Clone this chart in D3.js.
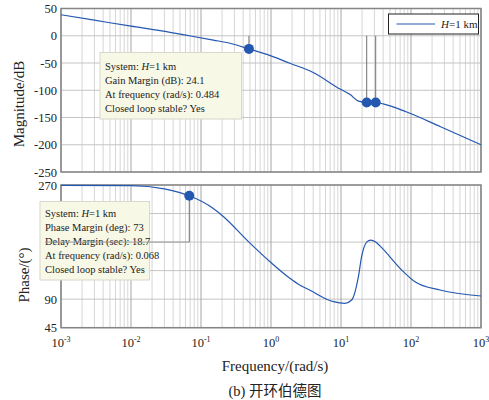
<!DOCTYPE html>
<html><head><meta charset="utf-8">
<script src="https://cdn.jsdelivr.net/npm/d3@7"></script>
<style>body{margin:0;background:#fff}svg{display:block}</style>
</head><body>
<svg id="c" width="489" height="400"></svg>
<script>
// ---- data ----
const magFreq = [0.001,0.003,0.01,0.026,0.068,0.15,0.26,0.484,1.0,1.86,4.0,9.7,13.5,17.7,23.3,27,31.3,40,86.7,260,1000];
const magDb   = [38.5,28.5,17.5,9.3,0,-8,-13.8,-24.1,-37,-50.5,-67.5,-97.8,-108,-120,-122.3,-122.4,-122.5,-125,-140,-166.4,-200];
const phFreq  = [0.001,0.01,0.03,0.05,0.068,0.15,0.21,0.484,0.97,1.86,2.6,3.6,7.8,11.4,14.2,17.7,19.7,23.3,26.5,31.3,36,69.7,114,260,1000];
const phDeg   = [269.5,269,264,258,253,233,220,180,149,123,112,104,86,83.4,88.6,125,157,180,183,180,174,138.6,117.5,104.4,95];
const gmFreq  = [0.484,23.3,31.3];
const gmDb    = [-24.1,-122.4,-122.4];
const pmFreq  = 0.068, pmDeg = 253;
const magTicks = [50,0,-50,-100,-150,-200,-250];
const phGrid   = [270,225,180,135,90,45];
const phLabels = [270,90,45];
const xTickExp = [-3,-2,-1,0,1,2,3];
const gmText = ["System: |H|=1 km","Gain Margin (dB): 24.1","At frequency (rad/s): 0.484","Closed loop stable? Yes"];
const pmText = ["System: |H|=1 km","Phase Margin (deg): 73","Delay Margin (sec): 18.7","At frequency (rad/s): 0.068","Closed loop stable? Yes"];
const legendLabel = "H";

const svg = d3.select("#c");
const serif = "'Liberation Serif','Times New Roman',serif";
const blue = "#2458b0";
const x = d3.scaleLog().domain([1e-3,1e3]).range([61,481]);
const yM = d3.scaleLinear().domain([-250,50]).range([172,8.5]);
const yP = d3.scaleLinear().domain([45,270]).range([327.7,185]);

function grid(y, hvals){
  const g = svg.append("g");
  const [y0,y1] = [y.range()[1], y.range()[0]];
  for(let e=-3;e<3;e++){
    for(let k=2;k<=9;k++){
      const v=k*Math.pow(10,e);
      g.append("line").attr("x1",x(v)).attr("x2",x(v)).attr("y1",y0).attr("y2",y1)
       .attr("stroke","#d6d6d6").attr("stroke-width",1);
    }
  }
  hvals.forEach(v=>g.append("line").attr("x1",61).attr("x2",481).attr("y1",y(v)).attr("y2",y(v))
       .attr("stroke","#c4c4c4").attr("stroke-width",1));
  xTickExp.forEach(e=>{const v=Math.pow(10,e);
    g.append("line").attr("x1",x(v)).attr("x2",x(v)).attr("y1",y0).attr("y2",y1)
       .attr("stroke","#a6a6a6").attr("stroke-width",1);});
  g.append("rect").attr("x",61).attr("y",y0).attr("width",420).attr("height",y1-y0)
   .attr("fill","none").attr("stroke","#858585").attr("stroke-width",1.5);
}
grid(yM, magTicks);
grid(yP, phGrid);

// y tick labels
magTicks.forEach(v=>svg.append("text").attr("x",57).attr("y",yM(v)+4.5).attr("text-anchor","end")
  .attr("font-family",serif).attr("font-size",12.5).attr("fill","#222").text(String(v)));
phLabels.forEach(v=>svg.append("text").attr("x",57).attr("y",yP(v)+4.5).attr("text-anchor","end")
  .attr("font-family",serif).attr("font-size",12.5).attr("fill","#222").text(String(v)));

// x tick labels
xTickExp.forEach(e=>{
  const t=svg.append("text").attr("x",x(Math.pow(10,e))).attr("y",347).attr("text-anchor","middle")
    .attr("font-family",serif).attr("font-size",12.5).attr("fill","#222");
  t.append("tspan").text("10");
  t.append("tspan").attr("dy",-5).attr("font-size",8).text(String(e).replace("-","-"));
});

// curves
const lineM = d3.line().x((d,i)=>x(magFreq[i])).y(d=>yM(d)).curve(d3.curveMonotoneX);
svg.append("path").attr("d",lineM(magDb)).attr("fill","none").attr("stroke",blue).attr("stroke-width",1.2);
const lineP = d3.line().x((d,i)=>x(phFreq[i])).y(d=>yP(d)).curve(d3.curveMonotoneX);
svg.append("path").attr("d",lineP(phDeg)).attr("fill","none").attr("stroke",blue).attr("stroke-width",1.2);

// margin reference lines
gmFreq.forEach((f,i)=>svg.append("line").attr("x1",x(f)).attr("x2",x(f)).attr("y1",yM(0)).attr("y2",yM(gmDb[i]))
  .attr("stroke","#707070").attr("stroke-width",1));
svg.append("line").attr("x1",x(pmFreq)).attr("x2",x(pmFreq)).attr("y1",yP(pmDeg)).attr("y2",yP(180))
  .attr("stroke","#707070").attr("stroke-width",1);

// tooltip boxes
function tip(bx,by,bw,bh,lines,tx,ty){
  svg.append("rect").attr("x",bx).attr("y",by).attr("width",bw).attr("height",bh)
    .attr("fill","#f8f8e7").attr("stroke","#d8d8cc").attr("stroke-width",1);
  lines.forEach((s,i)=>{
    const t=svg.append("text").attr("x",tx).attr("y",ty+i*14).attr("font-family",serif)
      .attr("font-size",10.5).attr("fill","#222");
    const parts=s.split("|");
    parts.forEach((p,j)=>{const sp=t.append("tspan").text(p); if(j===1) sp.attr("font-style","italic");});
  });
}
tip(100,52.5,141.5,66.5,gmText,105,70);
tip(40,201.5,109.5,78.5,pmText,45,217);
// 180 deg line passing over lower tooltip
svg.append("line").attr("x1",45).attr("x2",x(pmFreq)).attr("y1",yP(180)).attr("y2",yP(180))
  .attr("stroke","#9a9a9a").attr("stroke-width",1);

// markers
gmFreq.forEach((f,i)=>svg.append("circle").attr("cx",x(f)).attr("cy",yM(gmDb[i])).attr("r",5).attr("fill",blue));
svg.append("circle").attr("cx",x(pmFreq)).attr("cy",yP(pmDeg)).attr("r",5).attr("fill",blue);

// legend
svg.append("rect").attr("x",388.5).attr("y",14).attr("width",90).attr("height",20)
  .attr("fill","#fff").attr("stroke","#222").attr("stroke-width",1);
svg.append("line").attr("x1",396.5).attr("x2",435).attr("y1",24).attr("y2",24).attr("stroke",blue).attr("stroke-width",1.2);
const lt=svg.append("text").attr("x",441).attr("y",28).attr("font-family",serif).attr("font-size",11).attr("fill","#222");
lt.append("tspan").attr("font-style","italic").text(legendLabel);
lt.append("tspan").text("=1 km");

// axis titles
svg.append("text").attr("transform","translate(24,104) rotate(-90)").attr("text-anchor","middle")
  .attr("font-family",serif).attr("font-size",15).attr("fill","#222").text("Magnitude/dB");
svg.append("text").attr("transform","translate(29,275) rotate(-90)").attr("text-anchor","middle")
  .attr("font-family",serif).attr("font-size",15).attr("fill","#222").text("Phase/(°)");
svg.append("text").attr("x",275).attr("y",371).attr("text-anchor","middle")
  .attr("font-family",serif).attr("font-size",15).attr("fill","#222").text("Frequency/(rad/s)");
const cap=svg.append("text").attr("x",275).attr("y",396).attr("text-anchor","middle")
  .attr("font-size",14.5).attr("fill","#222");
cap.append("tspan").attr("font-family",serif).text("(b) ");
cap.append("tspan").attr("font-family","'Noto Sans CJK SC',sans-serif").text("开环伯德图");
</script>
</body></html>
